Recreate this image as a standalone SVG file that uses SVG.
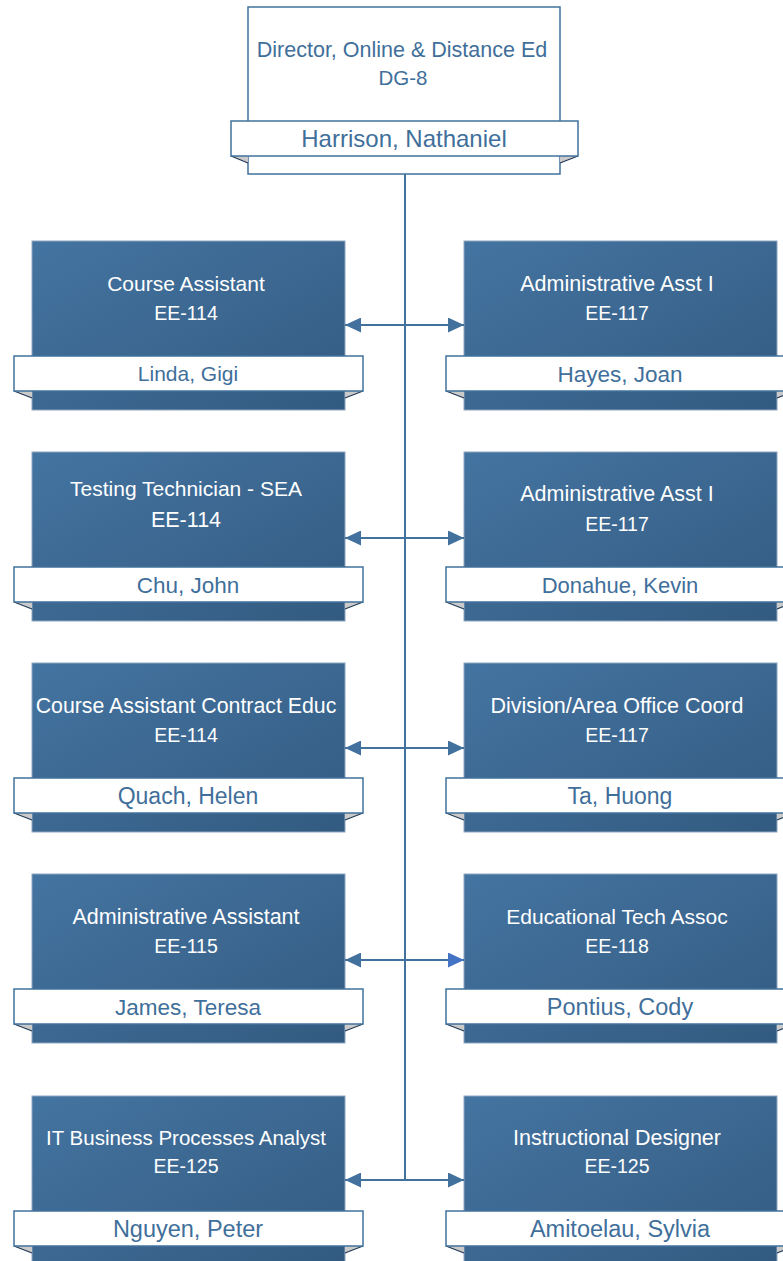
<svg xmlns="http://www.w3.org/2000/svg" width="783" height="1261" viewBox="0 0 783 1261">
<defs>
<linearGradient id="boxGrad" x1="0" y1="0" x2="1" y2="1">
<stop offset="0" stop-color="#4474a1"/>
<stop offset="1" stop-color="#335b81"/>
</linearGradient>
<marker id="arrow" viewBox="0 0 16 15" refX="16" refY="7.5" markerWidth="16" markerHeight="15" markerUnits="userSpaceOnUse" orient="auto-start-reverse">
<path d="M0,0 L16,7.5 L0,15 z" fill="#41719c"/>
</marker>
<marker id="arrowB" viewBox="0 0 16 15" refX="16" refY="7.5" markerWidth="16" markerHeight="15" markerUnits="userSpaceOnUse" orient="auto-start-reverse">
<path d="M0,0 L16,7.5 L0,15 z" fill="#4472c4"/>
</marker>
</defs>
<style>
.box{fill:url(#boxGrad);stroke:#8ea6c0;stroke-width:1}
.topbox{fill:#ffffff;stroke:#41719c;stroke-width:1.5}
.banner{fill:#ffffff;stroke:#41719c;stroke-width:1.5}
.fold{fill:#cacaca}
.foldline{stroke:#1f3a56;stroke-width:1.2}
text{font-family:"Liberation Sans",Arial,sans-serif;text-anchor:middle}
.t{fill:#ffffff}
.n{fill:#3f6f9a}
.conn{stroke:#41719c;stroke-width:2;fill:none}
</style>

<g id="director">
<rect class="topbox" x="248" y="7" width="312" height="167"/>
<polygon class="fold" points="231,156 248,156 248,163"/>
<polygon class="fold" points="578,156 560,156 560,163"/>
<line class="foldline" x1="231" y1="156" x2="248" y2="163"/>
<line class="foldline" x1="578" y1="156" x2="560" y2="163"/>
<rect class="banner" x="231" y="121" width="347" height="35"/>
<text class="n" x="402" y="57" font-size="21.5">Director, Online &amp; Distance Ed</text>
<text class="n" x="403" y="85" font-size="20.5">DG-8</text>
<text class="n" x="404" y="147" font-size="24">Harrison, Nathaniel</text>
</g>

<g id="linda">
<rect class="box" x="32" y="241" width="313" height="169"/>
<polygon class="fold" points="14,391 32,391 32,398"/>
<polygon class="fold" points="363,391 345,391 345,398"/>
<line class="foldline" x1="14" y1="391" x2="32" y2="398"/>
<line class="foldline" x1="363" y1="391" x2="345" y2="398"/>
<rect class="banner" x="14" y="356" width="349" height="35"/>
<text class="t" x="186" y="291" font-size="21">Course Assistant</text>
<text class="t" x="186" y="320" font-size="19.5">EE-114</text>
<text class="n" x="188" y="381" font-size="21">Linda, Gigi</text>
</g>

<g id="hayes">
<rect class="box" x="464" y="241" width="313" height="169"/>
<polygon class="fold" points="446,391 464,391 464,398"/>
<polygon class="fold" points="795,391 777,391 777,398"/>
<line class="foldline" x1="446" y1="391" x2="464" y2="398"/>
<line class="foldline" x1="795" y1="391" x2="777" y2="398"/>
<rect class="banner" x="446" y="356" width="349" height="35"/>
<text class="t" x="617" y="291" font-size="21.5">Administrative Asst I</text>
<text class="t" x="617" y="320" font-size="19.5">EE-117</text>
<text class="n" x="620" y="381.5" font-size="22.5">Hayes, Joan</text>
</g>

<g id="chu">
<rect class="box" x="32" y="452" width="313" height="169"/>
<polygon class="fold" points="14,602 32,602 32,609"/>
<polygon class="fold" points="363,602 345,602 345,609"/>
<line class="foldline" x1="14" y1="602" x2="32" y2="609"/>
<line class="foldline" x1="363" y1="602" x2="345" y2="609"/>
<rect class="banner" x="14" y="567" width="349" height="35"/>
<text class="t" x="186" y="496" font-size="21">Testing Technician - SEA</text>
<text class="t" x="186" y="527" font-size="21.5">EE-114</text>
<text class="n" x="188" y="593" font-size="22.5">Chu, John</text>
</g>

<g id="donahue">
<rect class="box" x="464" y="452" width="313" height="169"/>
<polygon class="fold" points="446,602 464,602 464,609"/>
<polygon class="fold" points="795,602 777,602 777,609"/>
<line class="foldline" x1="446" y1="602" x2="464" y2="609"/>
<line class="foldline" x1="795" y1="602" x2="777" y2="609"/>
<rect class="banner" x="446" y="567" width="349" height="35"/>
<text class="t" x="617" y="501" font-size="21.5">Administrative Asst I</text>
<text class="t" x="617" y="531" font-size="19.5">EE-117</text>
<text class="n" x="620" y="593" font-size="22">Donahue, Kevin</text>
</g>

<g id="quach">
<rect class="box" x="32" y="663" width="313" height="169"/>
<polygon class="fold" points="14,813 32,813 32,820"/>
<polygon class="fold" points="363,813 345,813 345,820"/>
<line class="foldline" x1="14" y1="813" x2="32" y2="820"/>
<line class="foldline" x1="363" y1="813" x2="345" y2="820"/>
<rect class="banner" x="14" y="778" width="349" height="35"/>
<text class="t" x="186" y="713" font-size="21.3">Course Assistant Contract Educ</text>
<text class="t" x="186" y="742" font-size="19.5">EE-114</text>
<text class="n" x="188" y="804" font-size="23">Quach, Helen</text>
</g>

<g id="ta">
<rect class="box" x="464" y="663" width="313" height="169"/>
<polygon class="fold" points="446,813 464,813 464,820"/>
<polygon class="fold" points="795,813 777,813 777,820"/>
<line class="foldline" x1="446" y1="813" x2="464" y2="820"/>
<line class="foldline" x1="795" y1="813" x2="777" y2="820"/>
<rect class="banner" x="446" y="778" width="349" height="35"/>
<text class="t" x="617" y="713" font-size="21.5">Division/Area Office Coord</text>
<text class="t" x="617" y="742" font-size="19.5">EE-117</text>
<text class="n" x="620" y="804" font-size="23">Ta, Huong</text>
</g>

<g id="james">
<rect class="box" x="32" y="874" width="313" height="169"/>
<polygon class="fold" points="14,1024 32,1024 32,1031"/>
<polygon class="fold" points="363,1024 345,1024 345,1031"/>
<line class="foldline" x1="14" y1="1024" x2="32" y2="1031"/>
<line class="foldline" x1="363" y1="1024" x2="345" y2="1031"/>
<rect class="banner" x="14" y="989" width="349" height="35"/>
<text class="t" x="186" y="924" font-size="21.5">Administrative Assistant</text>
<text class="t" x="186" y="953" font-size="19.5">EE-115</text>
<text class="n" x="188" y="1015" font-size="22.5">James, Teresa</text>
</g>

<g id="pontius">
<rect class="box" x="464" y="874" width="313" height="169"/>
<polygon class="fold" points="446,1024 464,1024 464,1031"/>
<polygon class="fold" points="795,1024 777,1024 777,1031"/>
<line class="foldline" x1="446" y1="1024" x2="464" y2="1031"/>
<line class="foldline" x1="795" y1="1024" x2="777" y2="1031"/>
<rect class="banner" x="446" y="989" width="349" height="35"/>
<text class="t" x="617" y="924" font-size="21">Educational Tech Assoc</text>
<text class="t" x="617" y="953" font-size="19.5">EE-118</text>
<text class="n" x="620" y="1015" font-size="23.5">Pontius, Cody</text>
</g>

<g id="nguyen">
<rect class="box" x="32" y="1096" width="313" height="169"/>
<polygon class="fold" points="14,1246 32,1246 32,1253"/>
<polygon class="fold" points="363,1246 345,1246 345,1253"/>
<line class="foldline" x1="14" y1="1246" x2="32" y2="1253"/>
<line class="foldline" x1="363" y1="1246" x2="345" y2="1253"/>
<rect class="banner" x="14" y="1211" width="349" height="35"/>
<text class="t" x="186" y="1145" font-size="20.5">IT Business Processes Analyst</text>
<text class="t" x="186" y="1173" font-size="19.5">EE-125</text>
<text class="n" x="188" y="1237" font-size="23.5">Nguyen, Peter</text>
</g>

<g id="amitoelau">
<rect class="box" x="464" y="1096" width="313" height="169"/>
<polygon class="fold" points="446,1246 464,1246 464,1253"/>
<polygon class="fold" points="795,1246 777,1246 777,1253"/>
<line class="foldline" x1="446" y1="1246" x2="464" y2="1253"/>
<line class="foldline" x1="795" y1="1246" x2="777" y2="1253"/>
<rect class="banner" x="446" y="1211" width="349" height="35"/>
<text class="t" x="617" y="1145" font-size="21.5">Instructional Designer</text>
<text class="t" x="617" y="1173" font-size="19.5">EE-125</text>
<text class="n" x="620" y="1237" font-size="23.5">Amitoelau, Sylvia</text>
</g>

<g id="connectors">
<line class="conn" x1="405" y1="174" x2="405" y2="1181"/>
<line class="conn" x1="345" y1="325" x2="464" y2="325" marker-start="url(#arrow)" marker-end="url(#arrow)"/>
<line class="conn" x1="345" y1="538" x2="464" y2="538" marker-start="url(#arrow)" marker-end="url(#arrow)"/>
<line class="conn" x1="345" y1="748" x2="464" y2="748" marker-start="url(#arrow)" marker-end="url(#arrow)"/>
<line class="conn" x1="345" y1="960" x2="464" y2="960" marker-start="url(#arrow)" marker-end="url(#arrowB)"/>
<line class="conn" x1="345" y1="1180" x2="464" y2="1180" marker-start="url(#arrow)" marker-end="url(#arrow)"/>
</g>
</svg>
